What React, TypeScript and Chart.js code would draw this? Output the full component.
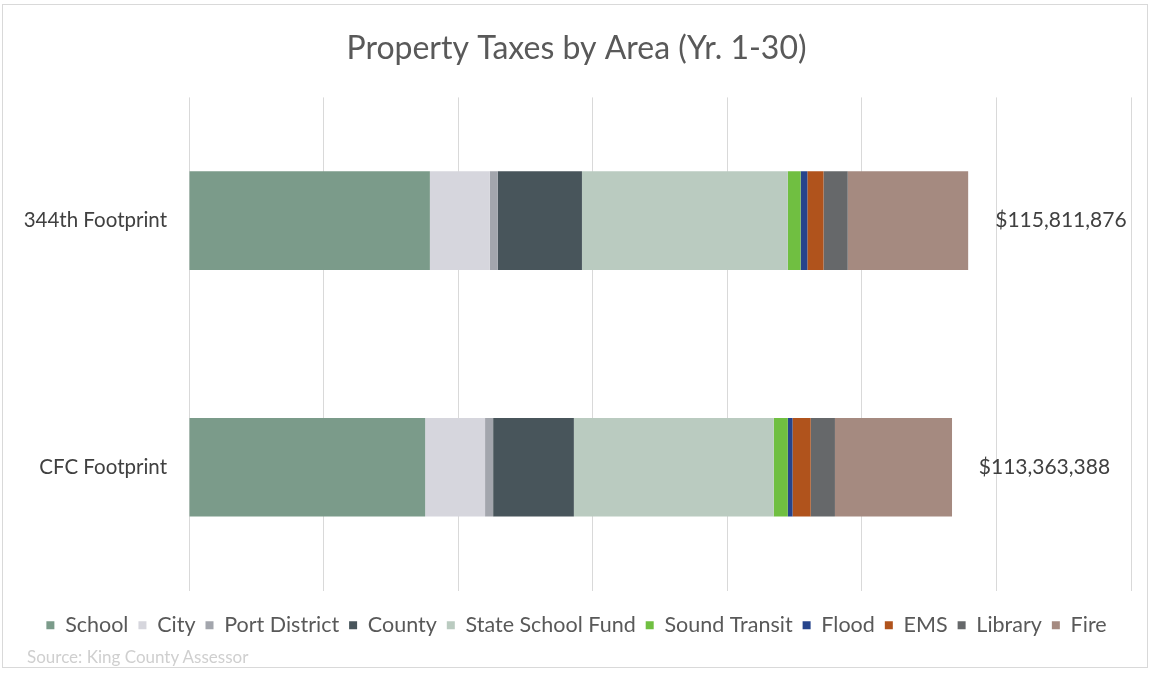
import React, { useEffect, useRef } from "react";
import { Chart, registerables } from "chart.js";

Chart.register(...registerables);

const categories = ["344th Footprint", "CFC Footprint"];
const seriesNames = ["School", "City", "Port District", "County", "State School Fund", "Sound Transit", "Flood", "EMS", "Library", "Fire"];
const school = [35.8, 35.1];
const city = [8.9, 8.9];
const portDistrict = [1.2, 1.2];
const county = [12.5, 12.0];
const stateSchoolFund = [30.6, 29.7];
const soundTransit = [1.9, 2.1];
const flood = [1.0, 0.7];
const ems = [2.4, 2.7];
const library = [3.6, 3.6];
const fire = [17.9, 17.4];
const totals = [115811876, 113363388];
const colors = ["#7b9b8a", "#d6d6dd", "#a3a6ad", "#48555b", "#bacbc0", "#70bf41", "#26448c", "#b0531c", "#66686a", "#a58a80"];
const xMax = 140;
const xStep = 20;

const totalsPlugin = {
  id: "totalsLabels",
  afterDatasetsDraw(chart: any) {
    const ctx = chart.ctx;
    const x = chart.scales.x;
    const y = chart.scales.y;
    ctx.save();
    ctx.font = "21px Lato";
    ctx.fillStyle = "#404040";
    ctx.textAlign = "left";
    ctx.textBaseline = "middle";
    totals.forEach((t, i) => {
      const px = x.getPixelForValue(t / 1e6) + 27;
      const py = y.getPixelForValue(i);
      ctx.fillText("$" + t.toLocaleString("en-US"), px, py);
    });
    ctx.restore();
  },
};

export default function App() {
  const ref = useRef<HTMLCanvasElement>(null);
  useEffect(() => {
    const all = [school, city, portDistrict, county, stateSchoolFund, soundTransit, flood, ems, library, fire];
    const chart = new Chart(ref.current!, {
      type: "bar",
      data: {
        labels: categories,
        datasets: all.map((d, i) => ({
          label: seriesNames[i],
          data: d,
          backgroundColor: colors[i],
          borderWidth: 0,
          barPercentage: 0.4,
          categoryPercentage: 1,
        })),
      },
      options: {
        indexAxis: "y",
        animation: false,
        responsive: false,
        maintainAspectRatio: false,
        layout: { padding: { left: 22, right: 21, top: 0, bottom: 27 } },
        plugins: {
          title: {
            display: true,
            text: "Property Taxes by Area (Yr. 1-30)",
            color: "#595959",
            font: { family: "Lato", size: 32, weight: "normal" },
            padding: { top: 29, bottom: 30 },
          },
          legend: {
            position: "bottom",
            labels: {
              color: "#595959",
              font: { family: "Lato", size: 21.5 },
              boxWidth: 8,
              boxHeight: 8,
              padding: 10,
            },
          },
          tooltip: { enabled: false },
        },
        scales: {
          x: {
            stacked: true,
            min: 0,
            max: xMax,
            ticks: { display: false, stepSize: xStep },
            grid: { color: "#d9d9d9", drawTicks: false },
            border: { display: false },
            afterFit(scale: any) { scale.height = 14; },
          },
          y: {
            stacked: true,
            ticks: { color: "#404040", font: { family: "Lato", size: 20.5 }, padding: 22 },
            grid: { display: false, drawTicks: false },
            border: { display: false },
            afterFit(scale: any) { scale.width = 167; },
          },
        },
      },
      plugins: [totalsPlugin],
    });
    return () => chart.destroy();
  }, []);
  return (
    <div style={{ position: "fixed", left: 0, top: 0, width: 1152, height: 673, background: "#fff" }}>
      <div style={{ position: "absolute", left: 2, top: 4, width: 1146, height: 664, border: "1px solid #d9d9d9", boxSizing: "border-box" }} />
      <canvas ref={ref} width={1152} height={673} style={{ position: "absolute", left: 0, top: 0 }} />
      <div style={{ position: "absolute", left: 27, top: 646, fontFamily: "Lato", fontSize: 17, color: "#cfcfcf" }}>Source: King County Assessor</div>
    </div>
  );
}
